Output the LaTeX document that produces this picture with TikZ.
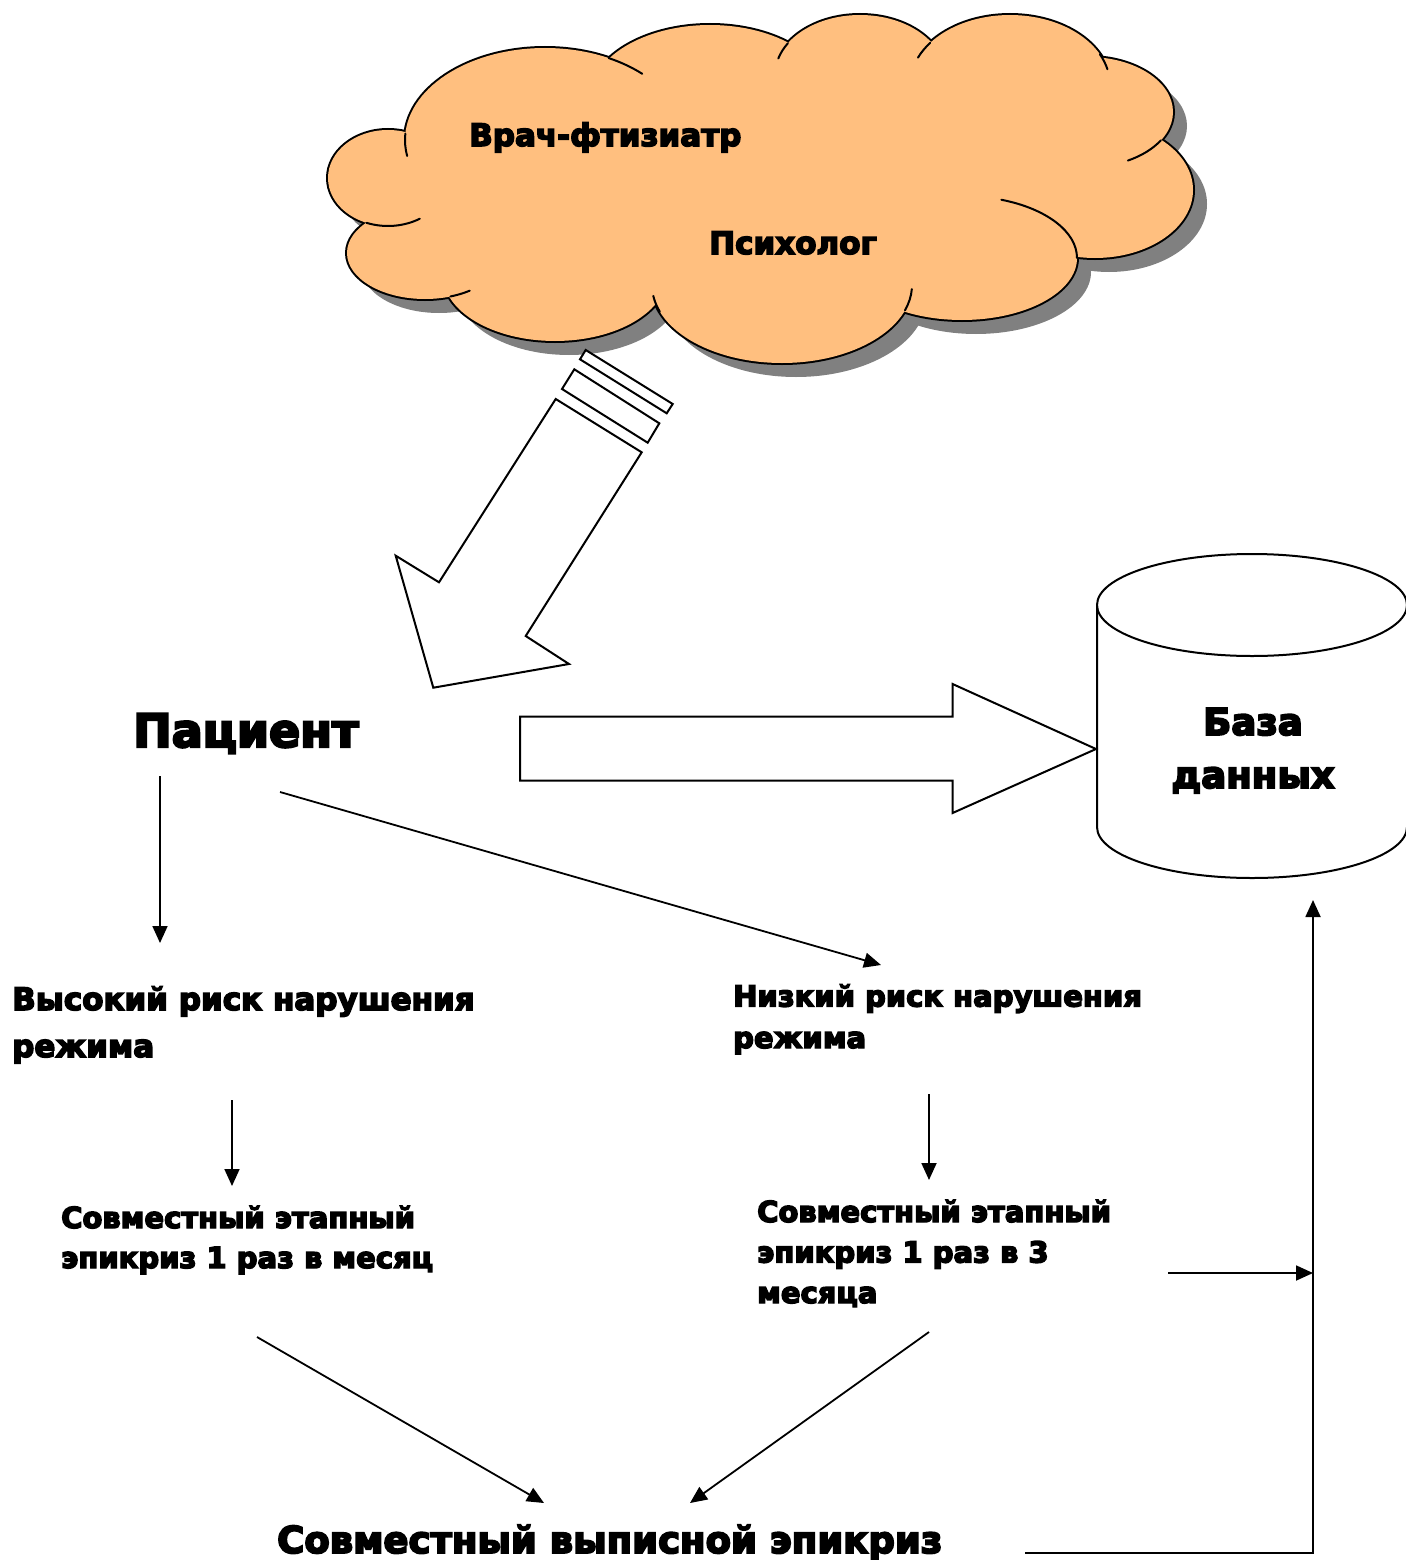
\documentclass[tikz,border=0pt]{standalone}
\usepackage{fontspec}
\setmainfont{DejaVu Sans}[BoldFeatures={FakeBold=5}]
\usetikzlibrary{arrows.meta}
\definecolor{cloudfill}{RGB}{255,191,127}
\definecolor{shadowgray}{RGB}{128,128,128}
\newcommand\cloudcrease[6]{\draw[cloudline] ([shift={(#5:#3 and #4)}]#1,#2) arc[start angle=#5,end angle=#6,x radius=#3,y radius=#4];}
\def\bumps{388/178/60/48, 425/253/78/46, 555/275/112/66, 782/285/130/78, 962/258/115/62, 1095/190/98/68, 1088/112/85/55, 1010/85/100/70, 860/75/85/60, 710/98/120/73, 545/140/140/92}
\begin{document}
\begin{tikzpicture}[x=1pt,y=1pt,yscale=-1,
  txt/.style={inner sep=0pt, align=left, anchor=base west},
  arr/.style={line width=1.8pt, -{Triangle[length=17pt,width=15pt]}},
  blk/.style={draw, line width=2pt, fill=white, line join=miter},
  cloudline/.style={line width=2pt, line cap=round}]
\useasboundingbox (0,0) rectangle (1405,1560);

% ---- cloud with shadow ----
\foreach \cx/\cy/\rx/\ry in \bumps {\fill[shadowgray] (\cx+14,\cy+14) ellipse[x radius=\rx, y radius=\ry];}
\fill[shadowgray] (774,194) ellipse[x radius=330, y radius=110];
\foreach \cx/\cy/\rx/\ry in \bumps {\draw[line width=4pt] (\cx,\cy) ellipse[x radius=\rx, y radius=\ry];}
\foreach \cx/\cy/\rx/\ry in \bumps {\fill[cloudfill] (\cx,\cy) ellipse[x radius=\rx, y radius=\ry];}
\fill[cloudfill] (760,180) ellipse[x radius=330, y radius=110];
\fill[cloudfill] (450,200) ellipse[x radius=30, y radius=25];
\cloudcrease{545}{140}{140}{92}{184}{170}
\cloudcrease{545}{140}{140}{92}{297}{314}
\cloudcrease{860}{75}{85}{60}{212}{196}
\cloudcrease{1010}{85}{100}{70}{217}{203}
\cloudcrease{1010}{85}{100}{70}{334}{347}
\cloudcrease{1088}{112}{85}{55}{31}{62}
\cloudcrease{962}{258}{115}{62}{290}{360}
\cloudcrease{782}{285}{130}{78}{19}{3}
\cloudcrease{782}{285}{130}{78}{160}{172}
\cloudcrease{425}{253}{78}{46}{71}{55}
\cloudcrease{388}{178}{60}{48}{111}{58}

\node[txt, font=\bfseries\fontsize{31pt}{37pt}\selectfont] (doc) at (469,146) {Врач-фтизиатр};
\node[txt, font=\bfseries\fontsize{31pt}{37pt}\selectfont] (psy) at (709,254) {Психолог};

% ---- striped block arrow from cloud to patient ----
\draw[blk] (585.7,350) -- (672.7,404) -- (666.7,413.3) -- (580,359.3) -- cycle;
\draw[blk] (574.3,369.3) -- (659.3,423.3) -- (647.7,442.7) -- (562,389) -- cycle;
\draw[blk] (555.7,399) -- (641.7,452.3) -- (525.7,636) -- (569,664) -- (433.3,687.7) -- (395.7,555.7) -- (439,582.3) -- cycle;

% ---- database cylinder ----
\draw[line width=2pt, fill=white] (1097,605) -- (1097,827) arc[start angle=180, end angle=0, x radius=155, y radius=51] -- (1407,605);
\draw[line width=2pt, fill=white] (1252,605) ellipse[x radius=155, y radius=51];
\node[inner sep=0pt, align=center, anchor=base, font=\bfseries\fontsize{37pt}{53pt}\selectfont] (db) at (1253,788) {База\\данных};

% ---- block arrow patient -> database ----
\draw[blk] (520,716.7) -- (952.6,716.7) -- (952.6,684) -- (1096,749) -- (952.6,813) -- (952.6,780.7) -- (520,780.7) -- cycle;

% ---- text nodes (base anchor = baseline of the last line) ----
\node[txt, font=\bfseries\fontsize{46pt}{55pt}\selectfont] (pac) at (133,747) {Пациент};
\node[txt, font=\bfseries\fontsize{31pt}{47pt}\selectfont] (high) at (12,1057) {Высокий риск нарушения\\режима};
\node[txt, font=\bfseries\fontsize{29pt}{41.5pt}\selectfont] (low) at (733,1048) {Низкий риск нарушения\\режима};
\node[txt, font=\bfseries\fontsize{29pt}{40pt}\selectfont] (st1) at (61,1268) {Совместный этапный\\эпикриз 1 раз в месяц};
\node[txt, font=\bfseries\fontsize{29pt}{40.5pt}\selectfont] (st2) at (757,1303) {Совместный этапный\\эпикриз 1 раз в 3\\месяца};
\node[txt, font=\bfseries\fontsize{37pt}{44pt}\selectfont] (fin) at (277,1553) {Совместный выписной эпикриз};

% ---- connector end points ----
\coordinate (pacA) at (160,776);   \coordinate (highA) at (160,943);
\coordinate (pacB) at (280,792);   \coordinate (lowA) at (881,965);
\coordinate (highB) at (232,1100); \coordinate (st1A) at (232,1186);
\coordinate (lowB) at (929,1094);  \coordinate (st2A) at (929,1180);
\coordinate (st1B) at (257,1337);  \coordinate (finA) at (544,1503);
\coordinate (st2B) at (929,1332);  \coordinate (finB) at (690,1503);
\coordinate (st2C) at (1168,1273); \coordinate (busM) at (1313,1273);
\coordinate (finC) at (1025,1553); \coordinate (busB) at (1313,1553);
\coordinate (dbA) at (1313,900);

\draw[arr] (pacA) -- (highA);
\draw[arr] (pacB) -- (lowA);
\draw[arr] (highB) -- (st1A);
\draw[arr] (lowB) -- (st2A);
\draw[arr] (st1B) -- (finA);
\draw[arr] (st2B) -- (finB);
\draw[arr] (st2C) -- (busM);
\draw[arr] (finC) -- (busB) -- (dbA);
\end{tikzpicture}
\end{document}
